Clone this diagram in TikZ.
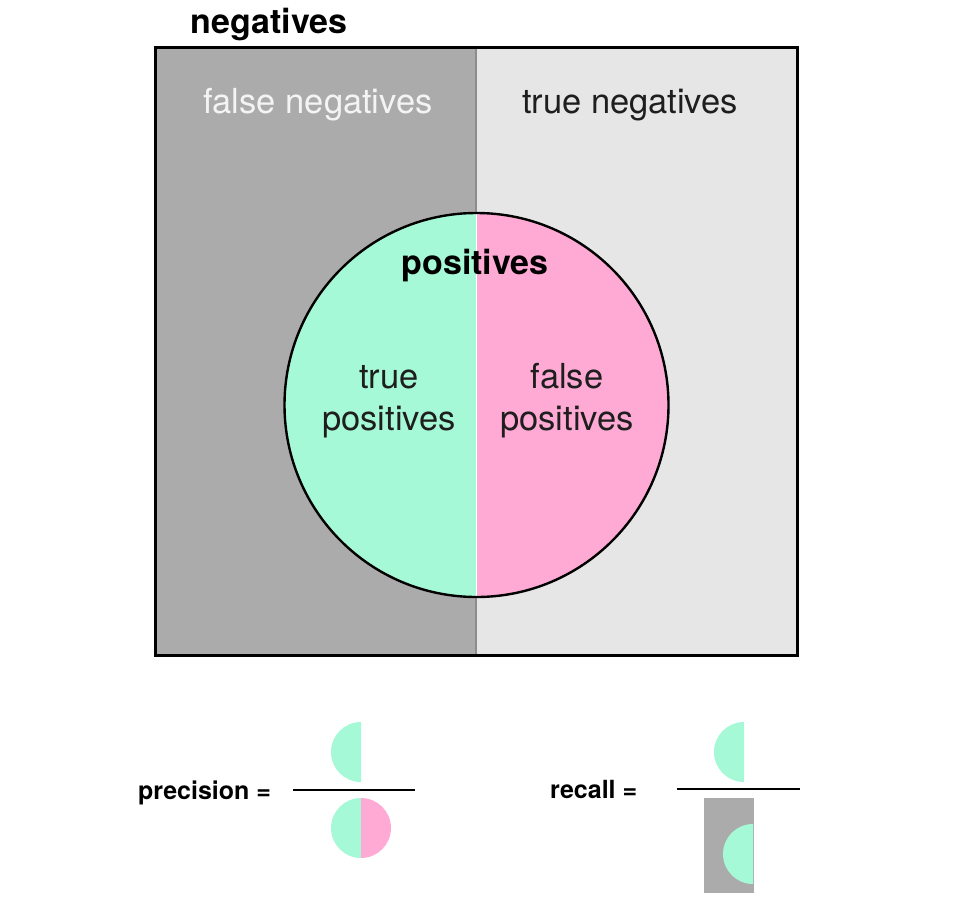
\documentclass[tikz,border=0pt]{standalone}
\usepackage{fontspec}
\setmainfont{TeX Gyre Heros}
\definecolor{dgray}{HTML}{ABABAB}
\definecolor{lgray}{HTML}{E6E6E6}
\definecolor{mint}{HTML}{A6F9D6}
\definecolor{pinkf}{HTML}{FFAAD4}
\definecolor{txt}{HTML}{1E1E1E}
\definecolor{wtxt}{HTML}{F4F4F4}
\begin{document}
\begin{tikzpicture}[x=1pt,y=1pt,
  lbl/.style={font=\fontsize{34.5}{40}\selectfont, text=txt, inner sep=0, anchor=base},
  bld/.style={font=\fontsize{34}{40}\selectfont\bfseries, inner sep=0, anchor=base},
  sml/.style={font=\fontsize{25}{28}\selectfont\bfseries, inner sep=0, anchor=base west},
  fracline/.style={line width=2.2}]
\useasboundingbox (0,0) rectangle (961,-921);
% regions
\fill[dgray] (155,-47) rectangle (476,-655);
\fill[lgray] (476,-47) rectangle (797,-655);
\draw[black!45, line width=1.5] (476,-47) -- (476,-655);
% positives circle
\coordinate (pc) at (476.5,-405);
\fill[mint] (476.5,-213) arc[start angle=90, end angle=270, radius=192] -- cycle;
\fill[pinkf] (476.5,-213) arc[start angle=90, end angle=-90, radius=192] -- cycle;
\draw[white, line width=1] (476.5,-213) -- (476.5,-597);
\draw[line width=2.4] (pc) circle[radius=192];
\draw[line width=3] (155,-47) rectangle (797,-655);
% labels
\node[bld] (neg) at (269,-33) {negatives};
\node[lbl, text=wtxt] (fn) at (318,-113) {false negatives};
\node[lbl] (tn) at (630,-113) {true negatives};
\node[bld] (pos) at (475,-274) {positives};
\node[lbl] (tp1) at (389,-388) {true};
\node[lbl] (tp2) at (389,-430) {positives};
\node[lbl] (fp1) at (567,-388) {false};
\node[lbl] (fp2) at (567,-430) {positives};
% precision
\node[sml] (prec) at (138,-799) {precision =};
\coordinate (pl1) at (293,-790);
\coordinate (pl2) at (415,-790);
\draw[fracline] (pl1) -- (pl2);
\fill[mint] (361,-722) arc[start angle=90, end angle=270, radius=30] -- cycle;
\fill[mint] (361,-798) arc[start angle=90, end angle=270, radius=30] -- cycle;
\fill[pinkf] (361,-798) arc[start angle=90, end angle=-90, radius=30] -- cycle;
% recall
\node[sml] (rec) at (550,-798) {recall =};
\coordinate (rl1) at (677,-789);
\coordinate (rl2) at (800,-789);
\draw[fracline] (rl1) -- (rl2);
\fill[mint] (744,-722) arc[start angle=90, end angle=270, radius=30] -- cycle;
\fill[dgray] (704,-798) rectangle (754,-893);
\fill[mint] (753,-824) arc[start angle=90, end angle=270, radius=30] -- cycle;
\end{tikzpicture}
\end{document}
